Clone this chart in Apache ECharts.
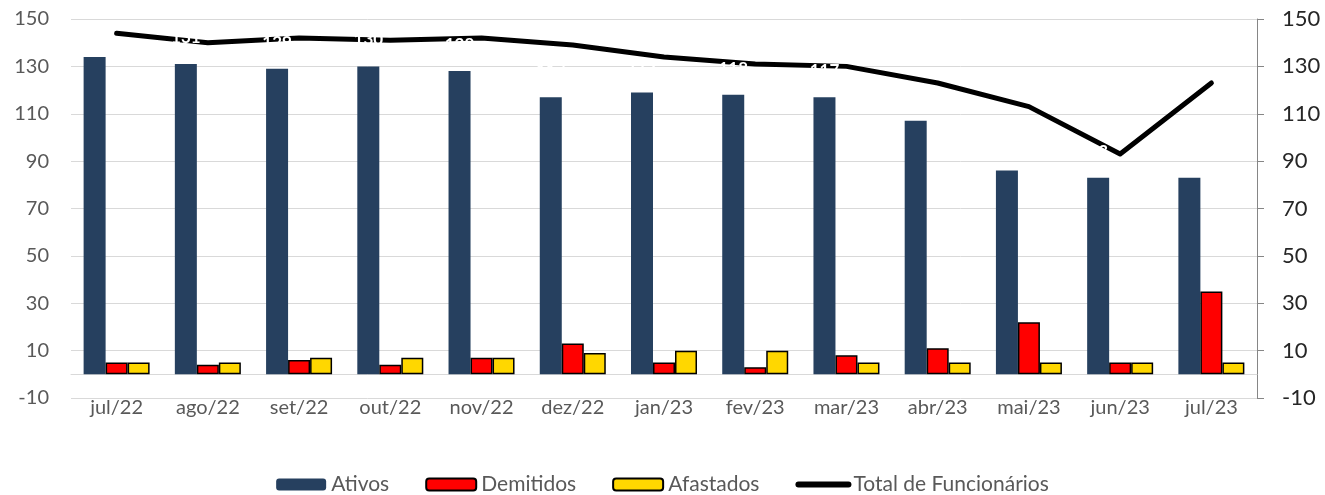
<!DOCTYPE html>
<html>
<head>
<meta charset="utf-8">
<script src="https://cdn.jsdelivr.net/npm/echarts@6/dist/echarts.min.js"></script>
<style>
html,body{margin:0;padding:0;background:#fff;}
#chart{width:1325px;height:495px;}
</style>
</head>
<body>
<div id="chart"></div>
<script>
const categories = ['jul/22','ago/22','set/22','out/22','nov/22','dez/22','jan/23','fev/23','mar/23','abr/23','mai/23','jun/23','jul/23'];
const ativos     = [134, 131, 129, 130, 128, 117, 119, 118, 117, 107, 86, 83, 83];
const demitidos  = [5, 4, 6, 4, 7, 13, 5, 3, 8, 11, 22, 5, 35];
const afastados  = [5, 5, 7, 7, 7, 9, 10, 10, 5, 5, 5, 5, 5];
const total      = [144, 140, 142, 141, 142, 139, 134, 131, 130, 123, 113, 93, 123];
const axisMin = -10, axisMax = 150, axisStep = 20;

const FONT = 'Lato';
const chart = echarts.init(document.getElementById('chart'), null, {renderer: 'canvas'});
chart.setOption({
  animation: false,
  backgroundColor: '#fff',
  textStyle: {fontFamily: FONT},
  grid: {left: 71, right: 68, top: 19, bottom: 97, containLabel: false},
  legend: {
    top: 469,
    left: 'center',
    itemWidth: 50,
    itemHeight: 12,
    itemGap: 36,
    textStyle: {fontFamily: FONT, fontSize: 21, color: '#595959'},
    data: ['Ativos', 'Demitidos', 'Afastados',
      {name: 'Total de Funcionários', itemStyle: {opacity: 0}, lineStyle: {width: 6, color: '#000', cap: 'round'}}]
  },
  xAxis: {
    type: 'category',
    data: categories,
    axisLine: {show: true, lineStyle: {color: '#D9D9D9', width: 1}},
    axisTick: {show: false},
    axisLabel: {fontFamily: FONT, fontSize: 20, color: '#595959', margin: 0}
  },
  yAxis: [{
    type: 'value', min: axisMin, max: axisMax, interval: axisStep,
    axisLine: {show: false}, axisTick: {show: false},
    splitLine: {lineStyle: {color: '#D9D9D9', width: 1}},
    axisLabel: {fontFamily: FONT, fontSize: 20, color: '#595959', margin: 22}
  }, {
    type: 'value', min: axisMin, max: axisMax, interval: axisStep, position: 'right',
    axisLine: {show: true, lineStyle: {color: '#868686', width: 1}},
    axisTick: {show: true, inside: false, length: 7, lineStyle: {color: '#868686'}},
    splitLine: {show: false},
    axisLabel: {fontFamily: FONT, fontSize: 22, color: '#262626', margin: 25}
  }],
  series: [{
    name: 'Ativos', type: 'bar', data: ativos, barWidth: 22, barGap: '0%', z: 3,
    itemStyle: {color: '#26405F'},
    label: {show: true, position: 'top', distance: 18, color: '#ffffff', fontFamily: FONT, fontSize: 17, fontWeight: 'bold'}
  }, {
    name: 'Demitidos', type: 'bar', data: demitidos, barWidth: 22, barGap: '0%', z: 3,
    itemStyle: {color: '#FF0000', borderColor: '#000', borderWidth: 1.5}
  }, {
    name: 'Afastados', type: 'bar', data: afastados, barWidth: 22, barGap: '0%', z: 3,
    itemStyle: {color: '#FFD700', borderColor: '#000', borderWidth: 1.5}
  }, {
    name: 'Total de Funcionários', type: 'line', yAxisIndex: 1, data: total,
    symbol: 'none', showSymbol: false, z: 2,
    lineStyle: {color: '#000', width: 5, cap: 'round', join: 'round'},
    itemStyle: {color: '#000'}
  }]
});
</script>
</body>
</html>
